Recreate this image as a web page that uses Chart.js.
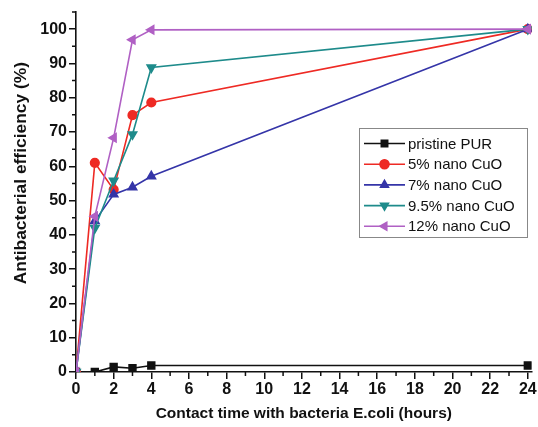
<!DOCTYPE html>
<html lang="en">
<head>
<meta charset="UTF-8">
<title>Antibacterial efficiency</title>
<script src="https://cdn.jsdelivr.net/npm/chart.js"></script>
<style>
  html, body { margin: 0; padding: 0; background: #fff; }
  #wrap { width: 538px; height: 427px; }
</style>
</head>
<body>
<div id="wrap"><canvas id="chart" width="538" height="427"></canvas></div>
<script>
const hours = [0, 1, 2, 3, 4, 24];
const seriesNames = ['pristine PUR', '5% nano CuO', '7% nano CuO', '9.5% nano CuO', '12% nano CuO'];
const pristine = [0, 0, 1.5, 1.1, 1.9, 1.9];
const cuo5 = [0, 61, 53.2, 74.9, 78.6, 100];
const cuo7 = [0, 44, 51.8, 53.9, 57.1, 100];
const cuo95 = [0, 42, 55.8, 69.3, 88.8, 100];
const cuo12 = [0, 45.4, 68.3, 96.9, 99.8, 100];
const xTicks = [0, 2, 4, 6, 8, 10, 12, 14, 16, 18, 20, 22, 24];
const yTicks = [0, 10, 20, 30, 40, 50, 60, 70, 80, 90, 100];

const colors = ['#111111', '#ee2a24', '#3535a8', '#1e8b8b', '#b060c4'];
const shapes = ['rect', 'circle', 'triangle', 'triangle', 'triangle'];
const rotations = [0, 0, 0, 180, 270];
const values = [pristine, cuo5, cuo7, cuo95, cuo12];
const font = '"Liberation Sans", Arial, sans-serif';

const datasets = values.map((v, i) => ({
    label: seriesNames[i],
    data: v.map((y, j) => ({ x: hours[j], y: y })),
    borderColor: colors[i],
    backgroundColor: colors[i],
    borderWidth: 1.6,
    pointStyle: shapes[i],
    pointRotation: rotations[i],
    pointRadius: shapes[i] === 'circle' ? 4.3 : 4.8,
    pointHoverRadius: 4.8,
    tension: 0,
    order: 4 - i
}));

// minor ticks, drawn outward like the original plot
const minorTicks = {
    id: 'minorTicks',
    afterDraw(chart) {
        const ctx = chart.ctx;
        const xs = chart.scales.x, ys = chart.scales.y;
        ctx.save();
        ctx.strokeStyle = '#111';
        ctx.lineWidth = 1.5;
        ctx.beginPath();
        for (let v = 1; v <= 24; v += 2) {
            const px = xs.getPixelForValue(v);
            ctx.moveTo(px, ys.bottom);
            ctx.lineTo(px, ys.bottom + 4);
        }
        for (let v = 5; v <= 105; v += 10) {
            const py = ys.getPixelForValue(v);
            ctx.moveTo(xs.left, py);
            ctx.lineTo(xs.left - 4, py);
        }
        ctx.stroke();
        // y axis title sits a little above the plot's middle in the original
        ctx.translate(21, ys.getPixelForValue(58));
        ctx.rotate(-Math.PI / 2);
        ctx.font = 'bold 17.4px ' + font;
        ctx.fillStyle = '#111';
        ctx.textAlign = 'center';
        ctx.textBaseline = 'middle';
        ctx.fillText('Antibacterial efficiency (%)', 0, 0);
        ctx.restore();
    }
};

// boxed legend inside the plot, line with marker in the middle
const boxLegend = {
    id: 'boxLegend',
    afterDraw(chart) {
        const ctx = chart.ctx;
        const x0 = 359, y0 = 128, w = 168, h = 109;
        ctx.save();
        ctx.fillStyle = '#fff';
        ctx.fillRect(x0, y0, w, h);
        ctx.strokeStyle = '#888';
        ctx.lineWidth = 1;
        ctx.strokeRect(x0 + 0.5, y0 + 0.5, w, h);
        ctx.font = '15px ' + font;
        ctx.textBaseline = 'middle';
        chart.data.datasets.forEach((ds, i) => {
            const cy = y0 + 15.5 + i * 20.7;
            ctx.strokeStyle = ds.borderColor;
            ctx.lineWidth = 1.6;
            ctx.beginPath();
            ctx.moveTo(x0 + 5, cy);
            ctx.lineTo(x0 + 46, cy);
            ctx.stroke();
            Chart.helpers.drawPoint(ctx, {
                pointStyle: ds.pointStyle,
                rotation: ds.pointRotation,
                radius: 4.5,
                borderWidth: 1
            }, x0 + 25.5, cy);
            ctx.fillStyle = ds.backgroundColor;
            ctx.fill();
            ctx.fillStyle = '#111';
            ctx.fillText(ds.label, x0 + 49, cy + 1);
        });
        ctx.restore();
    }
};

new Chart(document.getElementById('chart'), {
    type: 'line',
    data: { datasets: datasets },
    options: {
        responsive: false,
        animation: false,
        layout: { padding: { top: 12, right: 1, left: 0, bottom: 0 } },
        plugins: {
            legend: { display: false },
            tooltip: { enabled: false }
        },
        scales: {
            x: {
                type: 'linear',
                min: 0,
                max: 24.2,
                afterBuildTicks(s) { s.ticks = xTicks.map(v => ({ value: v })); },
                afterFit(s) { s.height = 55; },
                border: { display: true, color: '#111', width: 1.6 },
                grid: { drawOnChartArea: false, tickLength: 7, color: '#111', lineWidth: 1.5 },
                ticks: {
                    color: '#111',
                    padding: 1,
                    font: { family: font, size: 16, weight: 'bold' }
                },
                title: {
                    display: true,
                    text: 'Contact time with bacteria E.coli (hours)',
                    color: '#111',
                    padding: { top: 8 },
                    font: { family: font, size: 15.5, weight: 'bold' }
                }
            },
            y: {
                min: 0,
                max: 105,
                afterBuildTicks(s) { s.ticks = yTicks.map(v => ({ value: v })); },
                afterFit(s) { s.width = 76; },
                border: { display: true, color: '#111', width: 1.6 },
                grid: { drawOnChartArea: false, tickLength: 7, color: '#111', lineWidth: 1.5 },
                ticks: {
                    color: '#111',
                    padding: 2,
                    font: { family: font, size: 16, weight: 'bold' }
                }
            }
        }
    },
    plugins: [minorTicks, boxLegend]
});
</script>
</body>
</html>
